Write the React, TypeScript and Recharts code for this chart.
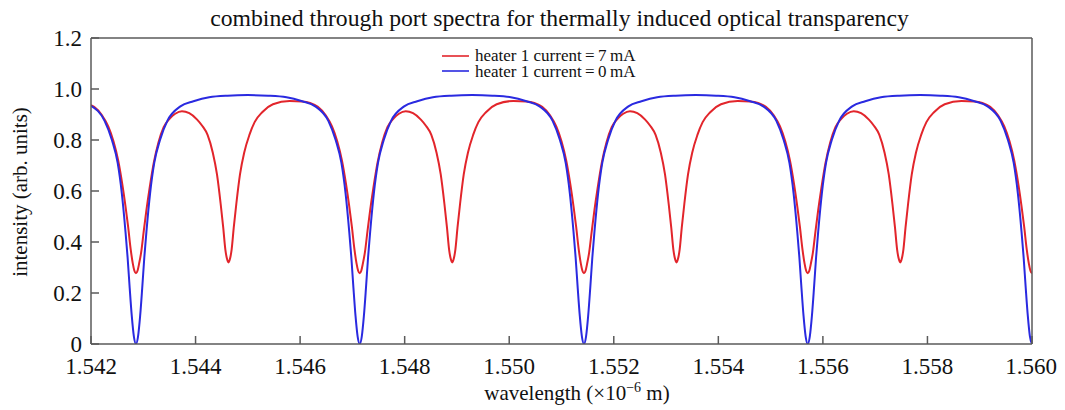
import React from 'react';
import { LineChart, Line, XAxis, YAxis, Legend } from 'recharts';

// ---- axis ticks ----
const xTicks = [1.542, 1.544, 1.546, 1.548, 1.55, 1.552, 1.554, 1.556, 1.558, 1.56];
const yTicks = [0, 0.2, 0.4, 0.6, 0.8, 1.0, 1.2];

// ---- series labels ----
const seriesNames = ['heater 1 current\u2009=\u20097\u2009mA', 'heater 1 current\u2009=\u20090\u2009mA'];
const seriesColors = ['#e2252b', '#2a2ae0'];

// ---- heater 1 current = 0 mA (blue) ----
const wavelength0mA = [
  1.542, 1.54226, 1.5424, 1.54251, 1.54259, 1.54266, 1.5427, 1.54274, 1.54278, 1.54282, 1.54286, 1.5429, 1.54294, 1.54298, 1.54302, 1.54306, 1.54313, 1.54321, 1.54332, 1.54346, 1.54371, 1.54396, 1.54426, 1.54461, 1.545,
  1.54539, 1.54574, 1.54604, 1.54629, 1.54654, 1.54668, 1.54679, 1.54687, 1.54694, 1.54698, 1.54702, 1.54706, 1.5471, 1.54714, 1.54718, 1.54722, 1.54726, 1.5473, 1.54734, 1.54741, 1.54749, 1.5476, 1.54774, 1.54799, 1.54824, 1.54854, 1.54889, 1.54929,
  1.54968, 1.55003, 1.55033, 1.55058, 1.55083, 1.55097, 1.55108, 1.55116, 1.55123, 1.55127, 1.55131, 1.55135, 1.55139, 1.55143, 1.55147, 1.55151, 1.55155, 1.55159, 1.55163, 1.5517, 1.55178, 1.55189, 1.55203, 1.55228, 1.55253, 1.55283, 1.55318, 1.55357,
  1.55396, 1.55431, 1.55461, 1.55486, 1.55511, 1.55525, 1.55536, 1.55544, 1.55551, 1.55555, 1.55559, 1.55563, 1.55567, 1.55571, 1.55575, 1.55579, 1.55583, 1.55587, 1.55591, 1.55598, 1.55606, 1.55617, 1.55631, 1.55656, 1.55681, 1.55711, 1.55746, 1.55786,
  1.55825, 1.5586, 1.5589, 1.55915, 1.5594, 1.55954, 1.55965, 1.55973, 1.5598, 1.55984, 1.55988, 1.55992, 1.55996, 1.56,
];
const intensity0mA = [
  0.934, 0.875, 0.8, 0.71, 0.59, 0.44, 0.34, 0.22, 0.11, 0.03, 0.0, 0.03, 0.11, 0.22, 0.34, 0.44, 0.59, 0.71, 0.8, 0.875, 0.932, 0.952, 0.968, 0.974, 0.976,
  0.974, 0.968, 0.952, 0.932, 0.875, 0.8, 0.71, 0.59, 0.44, 0.34, 0.22, 0.11, 0.03, 0.0, 0.03, 0.11, 0.22, 0.34, 0.44, 0.59, 0.71, 0.8, 0.875, 0.932, 0.952, 0.968, 0.974, 0.976,
  0.974, 0.968, 0.952, 0.932, 0.875, 0.8, 0.71, 0.59, 0.44, 0.34, 0.22, 0.11, 0.03, 0.0, 0.03, 0.11, 0.22, 0.34, 0.44, 0.59, 0.71, 0.8, 0.875, 0.932, 0.952, 0.968, 0.974, 0.976,
  0.974, 0.968, 0.952, 0.932, 0.875, 0.8, 0.71, 0.59, 0.44, 0.34, 0.22, 0.11, 0.03, 0.0, 0.03, 0.11, 0.22, 0.34, 0.44, 0.59, 0.71, 0.8, 0.875, 0.932, 0.952, 0.968, 0.974, 0.976,
  0.974, 0.968, 0.952, 0.932, 0.875, 0.8, 0.71, 0.59, 0.44, 0.34, 0.22, 0.11, 0.03, 0.0,
];

// ---- heater 1 current = 7 mA (red) ----
const wavelength7mA = [
  1.542, 1.54206, 1.54221, 1.54233, 1.54243, 1.54252, 1.5426, 1.54266, 1.54271, 1.54276, 1.5428, 1.54283, 1.54286,
  1.54289, 1.54292, 1.54296, 1.54301, 1.54306, 1.54312, 1.5432, 1.54329, 1.54339, 1.54351, 1.54361, 1.54374,
  1.54388, 1.54403, 1.54413, 1.54423, 1.54433, 1.54441, 1.54448, 1.54453, 1.54457, 1.5446, 1.54463, 1.54466, 1.54469, 1.54473, 1.54478, 1.54485, 1.54493, 1.54503, 1.54513, 1.54528, 1.54548, 1.5458,
  1.54604, 1.54619, 1.54634, 1.54649, 1.54661, 1.54671, 1.5468, 1.54688, 1.54694, 1.54699, 1.54704, 1.54708, 1.54711, 1.54714,
  1.54717, 1.5472, 1.54724, 1.54729, 1.54734, 1.5474, 1.54748, 1.54757, 1.54767, 1.54779, 1.54789, 1.54802,
  1.54816, 1.54831, 1.54841, 1.54851, 1.54861, 1.54869, 1.54876, 1.54881, 1.54885, 1.54888, 1.54891, 1.54894, 1.54897, 1.54901, 1.54906, 1.54913, 1.54921, 1.54931, 1.54941, 1.54956, 1.54976, 1.55008,
  1.55033, 1.55048, 1.55063, 1.55078, 1.5509, 1.551, 1.55109, 1.55117, 1.55123, 1.55128, 1.55133, 1.55137, 1.5514, 1.55143,
  1.55146, 1.55149, 1.55153, 1.55158, 1.55163, 1.55169, 1.55177, 1.55186, 1.55196, 1.55208, 1.55218, 1.55231,
  1.55245, 1.5526, 1.5527, 1.5528, 1.5529, 1.55298, 1.55305, 1.5531, 1.55314, 1.55317, 1.5532, 1.55323, 1.55326, 1.5533, 1.55335, 1.55342, 1.5535, 1.5536, 1.5537, 1.55385, 1.55405, 1.55437,
  1.55461, 1.55476, 1.55491, 1.55506, 1.55518, 1.55528, 1.55537, 1.55545, 1.55551, 1.55556, 1.55561, 1.55565, 1.55568, 1.55571,
  1.55574, 1.55577, 1.55581, 1.55586, 1.55591, 1.55597, 1.55605, 1.55614, 1.55624, 1.55636, 1.55646, 1.55659,
  1.55673, 1.55688, 1.55698, 1.55708, 1.55718, 1.55726, 1.55733, 1.55738, 1.55742, 1.55745, 1.55748, 1.55751, 1.55754, 1.55758, 1.55763, 1.5577, 1.55778, 1.55788, 1.55798, 1.55813, 1.55833, 1.55865,
  1.5589, 1.55905, 1.5592, 1.55935, 1.55947, 1.55957, 1.55966, 1.55974, 1.5598, 1.55985, 1.5599, 1.55994, 1.55997, 1.56,
];
const intensity7mA = [
  0.937, 0.93, 0.897, 0.853, 0.795, 0.72, 0.625, 0.54, 0.46, 0.37, 0.315, 0.287, 0.277,
  0.287, 0.315, 0.36, 0.445, 0.525, 0.61, 0.71, 0.79, 0.85, 0.885, 0.903, 0.913,
  0.905, 0.88, 0.855, 0.82, 0.75, 0.665, 0.55, 0.455, 0.37, 0.335, 0.32, 0.335, 0.37, 0.455, 0.55, 0.665, 0.75, 0.82, 0.87, 0.91, 0.94, 0.953,
  0.951, 0.945, 0.93, 0.897, 0.853, 0.795, 0.72, 0.625, 0.54, 0.46, 0.37, 0.315, 0.287, 0.277,
  0.287, 0.315, 0.36, 0.445, 0.525, 0.61, 0.71, 0.79, 0.85, 0.885, 0.903, 0.913,
  0.905, 0.88, 0.855, 0.82, 0.75, 0.665, 0.55, 0.455, 0.37, 0.335, 0.32, 0.335, 0.37, 0.455, 0.55, 0.665, 0.75, 0.82, 0.87, 0.91, 0.94, 0.953,
  0.951, 0.945, 0.93, 0.897, 0.853, 0.795, 0.72, 0.625, 0.54, 0.46, 0.37, 0.315, 0.287, 0.277,
  0.287, 0.315, 0.36, 0.445, 0.525, 0.61, 0.71, 0.79, 0.85, 0.885, 0.903, 0.913,
  0.905, 0.88, 0.855, 0.82, 0.75, 0.665, 0.55, 0.455, 0.37, 0.335, 0.32, 0.335, 0.37, 0.455, 0.55, 0.665, 0.75, 0.82, 0.87, 0.91, 0.94, 0.953,
  0.951, 0.945, 0.93, 0.897, 0.853, 0.795, 0.72, 0.625, 0.54, 0.46, 0.37, 0.315, 0.287, 0.277,
  0.287, 0.315, 0.36, 0.445, 0.525, 0.61, 0.71, 0.79, 0.85, 0.885, 0.903, 0.913,
  0.905, 0.88, 0.855, 0.82, 0.75, 0.665, 0.55, 0.455, 0.37, 0.335, 0.32, 0.335, 0.37, 0.455, 0.55, 0.665, 0.75, 0.82, 0.87, 0.91, 0.94, 0.953,
  0.951, 0.945, 0.93, 0.897, 0.853, 0.795, 0.72, 0.625, 0.54, 0.46, 0.37, 0.315, 0.287, 0.277,
];

const data7mA = wavelength7mA.map((x, i) => ({ x, y: intensity7mA[i] }));
const data0mA = wavelength0mA.map((x, i) => ({ x, y: intensity0mA[i] }));

const FONT = '"Liberation Serif", "Times New Roman", serif';
const AXIS = '#5a5a5a';
const W = 1049;
const H = 402;

const renderLegend = () => (
  <div style={{ fontFamily: FONT, fontSize: 17, color: '#111', lineHeight: '15px' }}>
    {seriesNames.map((name, i) => (
      <div key={i} style={{ display: 'flex', alignItems: 'center', height: 15.5, whiteSpace: 'nowrap' }}>
        <svg width={33} height={6} style={{ display: 'block', flex: '0 0 auto' }}>
          <line x1={0} y1={3} x2={27} y2={3} stroke={seriesColors[i]} strokeWidth={1.6} />
        </svg>
        <span>{name}</span>
      </div>
    ))}
  </div>
);

export default function App() {
  return (
    <div style={{ position: 'relative', width: W, height: H, fontFamily: FONT }}>
      <LineChart width={W} height={H} margin={{ top: 0, right: 0, bottom: 26, left: 0 }}>
        <XAxis
          xAxisId="b"
          dataKey="x"
          type="number"
          orientation="bottom"
          domain={[1.542, 1.56]}
          ticks={xTicks}
          allowDataOverflow
          height={40}
          tickSize={-8}
          tickMargin={22}
          tickFormatter={(v: number) => v.toFixed(3)}
          tick={{ fontSize: 23, fill: '#111', fontFamily: FONT }}
          axisLine={{ stroke: AXIS, strokeWidth: 1.5 }}
          tickLine={{ stroke: AXIS, strokeWidth: 1.5 }}
        />
        <XAxis
          xAxisId="t"
          dataKey="x"
          type="number"
          orientation="top"
          domain={[1.542, 1.56]}
          ticks={xTicks}
          allowDataOverflow
          height={30}
          tickSize={-8}
          tick={false}
          axisLine={{ stroke: AXIS, strokeWidth: 1.5 }}
          tickLine={{ stroke: AXIS, strokeWidth: 1.5 }}
        />
        <YAxis
          yAxisId="l"
          type="number"
          domain={[0, 1.2]}
          ticks={yTicks}
          allowDataOverflow
          width={83}
          tickSize={-8}
          tickMargin={17}
          tickFormatter={(v: number) => (v === 0 ? '0' : v.toFixed(1))}
          tick={{ fontSize: 23, fill: '#111', fontFamily: FONT }}
          axisLine={{ stroke: AXIS, strokeWidth: 1.5 }}
          tickLine={{ stroke: AXIS, strokeWidth: 1.5 }}
        />
        <YAxis
          yAxisId="r"
          type="number"
          orientation="right"
          domain={[0, 1.2]}
          ticks={yTicks}
          allowDataOverflow
          width={25}
          tickSize={-8}
          tick={false}
          axisLine={{ stroke: AXIS, strokeWidth: 1.5 }}
          tickLine={{ stroke: AXIS, strokeWidth: 1.5 }}
        />
        <Legend
          layout="horizontal"
          verticalAlign="middle"
          align="center"
          content={renderLegend}
          wrapperStyle={{ position: 'absolute', left: 434, top: 40, width: 260, height: 32 }}
        />
        <Line
          xAxisId="b"
          yAxisId="l"
          data={data7mA}
          dataKey="y"
          name={seriesNames[0]}
          type="monotone"
          stroke={seriesColors[0]}
          strokeWidth={2}
          dot={false}
          activeDot={false}
          isAnimationActive={false}
        />
        <Line
          xAxisId="b"
          yAxisId="l"
          data={data0mA}
          dataKey="y"
          name={seriesNames[1]}
          type="monotone"
          stroke={seriesColors[1]}
          strokeWidth={2}
          dot={false}
          activeDot={false}
          isAnimationActive={false}
        />
      </LineChart>
      <svg
        width={1065}
        height={410}
        style={{ position: 'absolute', left: -8, top: -8, pointerEvents: 'none' }}
      >
        <text x={559.5} y={26} textAnchor="middle" fontSize={23.7} fontFamily={FONT} fill="#111">
          combined through port spectra for thermally induced optical transparency
        </text>
        <text x={577} y={400} textAnchor="middle" fontSize={21} fontFamily={FONT} fill="#111">
          wavelength (×10
          <tspan dy={-8} fontSize={14}>−6</tspan>
          <tspan dy={8}> m)</tspan>
        </text>
        <text
          transform="translate(27,192) rotate(-90)"
          textAnchor="middle"
          fontSize={21}
          fontFamily={FONT}
          fill="#111"
        >
          intensity (arb. units)
        </text>
      </svg>
    </div>
  );
}
